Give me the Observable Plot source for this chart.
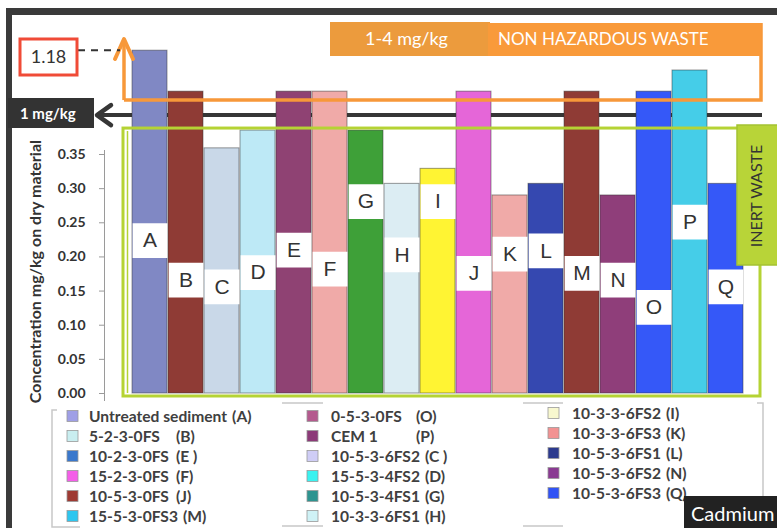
<!DOCTYPE html>
<html><head><meta charset="utf-8">
<script src="https://cdn.jsdelivr.net/npm/d3@7"></script>
<script src="https://cdn.jsdelivr.net/npm/@observablehq/plot@0.6"></script>
<style>
html,body{margin:0;padding:0;background:#fff;}
#chart{position:relative;width:777px;height:528px;overflow:hidden;}
#chart svg{position:absolute;left:0;top:0;}
</style></head><body><div id="chart"></div>
<script>
// ---- data ----
const samples = ["A","B","C","D","E","F","G","H","I","J","K","L","M","N","O","P","Q"];
const cdValues = [0.502,0.442,0.359,0.385,0.442,0.442,0.385,0.307,0.329,0.442,0.290,0.307,0.442,0.290,0.442,0.473,0.307];
const labelLevels = [0.224,0.166,0.156,0.177,0.210,0.182,0.281,0.203,0.281,0.176,0.204,0.209,0.176,0.166,0.126,0.251,0.156];
const barColors = ["#8088c4","#8f3b35","#c9d8e8","#bde9f6","#8f4273","#f0aaa8","#3ea038","#dcedf3","#fff433","#e566d8","#f0aaa8","#3548b0","#8f3b35","#8f3e7a","#3558f8","#45cde8","#3558f8"];
const yTicks = [0,0.05,0.10,0.15,0.20,0.25,0.30,0.35];
const untreatedActual = 1.18;
const inertLevel = 0.388;
const oneMgLevel = 0.407;
const nonHazLevel = 0.429;
const legendNames = ["Untreated sediment","5-2-3-0FS","10-2-3-0FS","15-2-3-0FS","10-5-3-0FS","15-5-3-0FS3",
  "0-5-3-0FS","CEM 1","10-5-3-6FS2","15-5-3-4FS2","10-5-3-4FS1","10-3-3-6FS1",
  "10-3-3-6FS2","10-3-3-6FS3","10-5-3-6FS1","10-5-3-6FS2","10-5-3-6FS3"];
const legendCodes = ["(A)","(B)","(E )","(F)","(J)","(M)","(O)","(P)","(C )","(D)","(G)","(H)","(I)","(K)","(L)","(N)","(Q)"];
const legendColors = ["#9f9fe6","#c9eef0","#3a78cc","#f45ee8","#9e3a33","#2ec6ef","#b45a8e","#8c3a78","#cfcdf6","#3af2f0","#2e9490","#cff2f6","#f8f8cf","#f29292","#2c3a8e","#8a3a92","#3153f5"];

const data = samples.map((s,i)=>({sample:s, value:cdValues[i], label:labelLevels[i], color:barColors[i]}));

const chart = Plot.plot({
  width:777, height:528,
  marginLeft:104, marginRight:31, marginTop:150, marginBottom:128,
  style:{background:"transparent", fontFamily:"Lato, sans-serif", overflow:"visible"},
  x:{type:"band", domain:samples, range:[129,746], padding:0.04, axis:null},
  y:{domain:[0,0.35], range:[393,154], axis:null},
  marks:[
    Plot.frame({anchor:"left", stroke:"#9a9a9a"}),
    Plot.axisY({ticks:yTicks, tickFormat:d3.format(".2f"), tickSize:5, tickPadding:14, fontSize:14, fontWeight:"bold", fill:"#333", stroke:"#9a9a9a", label:null}),
    Plot.barY(data,{x:"sample", y:"value", fill:"color", stroke:"#333", strokeOpacity:0.5, strokeWidth:1}),
    Plot.dot(data,{x:"sample", y:"label", symbol:"square", r:19.6, fill:"white", stroke:"none"}),
    Plot.text(data,{x:"sample", y:"label", text:"sample", fontSize:21, fill:"#333", fontFamily:"Liberation Sans, Arial, sans-serif"})
  ]
});
document.getElementById("chart").appendChild(chart);

const svg = d3.select(chart);
const y = chart.scale("y");
const yA = y.apply(cdValues[0]);
const yOne = y.apply(oneMgLevel), yNon = y.apply(nonHazLevel), yInert = y.apply(inertLevel);

// background layer (behind bars)
const under = svg.insert("g", ":first-child");
under.append("rect").attr("x",6).attr("y",8).attr("width",771).attr("height",7).attr("fill","#3a3a3a");
under.append("rect").attr("x",6).attr("y",8).attr("width",6).attr("height",520).attr("fill","#3a3a3a");
under.append("line").attr("x1",99).attr("x2",762).attr("y1",yOne).attr("y2",yOne).attr("stroke","#363636").attr("stroke-width",4);

const over = svg.append("g").attr("text-anchor","start").attr("font-family","Lato, sans-serif");
// green inert rectangle
over.append("rect").attr("x",123).attr("y",yInert).attr("width",637).attr("height",396-yInert)
  .attr("fill","none").attr("stroke","#b5d334").attr("stroke-width",3);
over.append("line").attr("x1",127.5).attr("x2",127.5).attr("y1",yInert+3).attr("y2",393).attr("stroke","#b5d334").attr("stroke-width",1.5);
over.append("rect").attr("x",737).attr("y",125).attr("width",45).attr("height",140).attr("fill","#b8d438").attr("stroke","#a4c232").attr("stroke-width",1.5);
over.append("text").attr("transform","translate(762,196) rotate(-90)").attr("text-anchor","middle")
  .attr("font-size",16).attr("fill","#333").text("INERT WASTE");

// orange non hazardous outline + arrow
over.append("path").attr("d",`M124,${yNon} H761 V23`).attr("fill","none").attr("stroke","#f7983a").attr("stroke-width",3.5);
over.append("path").attr("d",`M124,${yNon} V40`).attr("fill","none").attr("stroke","#f7983a").attr("stroke-width",3.5);
over.append("path").attr("d","M115,59 L124,39 L133,59").attr("fill","none").attr("stroke","#f7983a").attr("stroke-width",4).attr("stroke-linecap","round").attr("stroke-linejoin","round");
over.append("rect").attr("x",330).attr("y",22).attr("width",160).attr("height",34).attr("fill","#ec9b3d");
over.append("rect").attr("x",488).attr("y",23).attr("width",273).attr("height",33).attr("fill","#f99a3a");
over.append("text").attr("x",365).attr("y",45).attr("font-size",18).attr("fill","#fff").text("1-4 mg/kg");
over.append("text").attr("x",498).attr("y",45).attr("font-size",17).attr("fill","#fff").text("NON HAZARDOUS WASTE");

// black 1 mg/kg label + arrowhead
over.append("path").attr("d",`M111,${yOne-10} L97,${yOne} L111,${yOne+10}`).attr("fill","none").attr("stroke","#363636").attr("stroke-width",4.5).attr("stroke-linejoin","round").attr("stroke-linecap","round");
over.append("rect").attr("x",8).attr("y",98).attr("width",86).attr("height",30).attr("fill","#333");
over.append("text").attr("x",20).attr("y",119).attr("font-weight","bold").attr("font-size",15).attr("fill","#fff").text("1 mg/kg");

// 1.18 box + dashed line
over.append("line").attr("x1",78).attr("x2",120).attr("y1",yA).attr("y2",yA).attr("stroke","#333").attr("stroke-width",2).attr("stroke-dasharray","7,6");
over.append("rect").attr("x",20).attr("y",39).attr("width",57).attr("height",36).attr("fill","#fff").attr("stroke","#f04b37").attr("stroke-width",3);
over.append("text").attr("x",48.5).attr("y",63).attr("text-anchor","middle").attr("font-size",18).attr("fill","#333").text(untreatedActual.toFixed(2));

// y title
over.append("text").attr("transform","translate(41,140) rotate(-90)").attr("text-anchor","end")
  .attr("font-weight","bold").attr("font-size",16).attr("fill","#333")
  .text("Concentration mg/kg on dry material");

// legend
const lg = over.append("g").attr("stroke","#c8c8c8").attr("stroke-width",1.5).attr("fill","none");
lg.append("path").attr("d","M57,410 H52 V527 H80");
lg.append("path").attr("d","M282,403 H323 M523,403 H563 M282,526 H323 M523,526 H563");
lg.append("path").attr("d","M757,403 H763 V528");
const cols = [{sx:67, tx:89, cx:176, y0:416, n:6},{sx:307, tx:331, cx:416, y0:416, n:6},{sx:548, tx:572, cx:0, y0:413, n:5}];
let idx = 0;
cols.forEach(c=>{
  for(let r=0;r<c.n;r++,idx++){
    const cy = c.y0 + r*20;
    over.append("rect").attr("x",c.sx).attr("y",cy-5.5).attr("width",11).attr("height",11)
      .attr("fill",legendColors[idx]).attr("stroke","#999").attr("stroke-width",0.8);
    const t = over.append("text").attr("x",c.tx).attr("y",cy+5.5)
      .attr("font-weight","bold").attr("font-size",15.6).attr("fill","#404040").text(legendNames[idx]);
    const end = c.tx + t.node().getComputedTextLength();
    const cx = Math.max(c.cx, end + 5);
    over.append("text").attr("x",cx).attr("y",cy+5.5)
      .attr("font-weight","bold").attr("font-size",15.6).attr("fill","#404040").text(legendCodes[idx]);
  }
});

// Cadmium tag
over.append("rect").attr("x",684).attr("y",496).attr("width",100).attr("height",40).attr("fill","#222");
over.append("text").attr("x",691).attr("y",521).attr("font-size",20).attr("fill","#fff").text("Cadmium");
</script></body></html>
